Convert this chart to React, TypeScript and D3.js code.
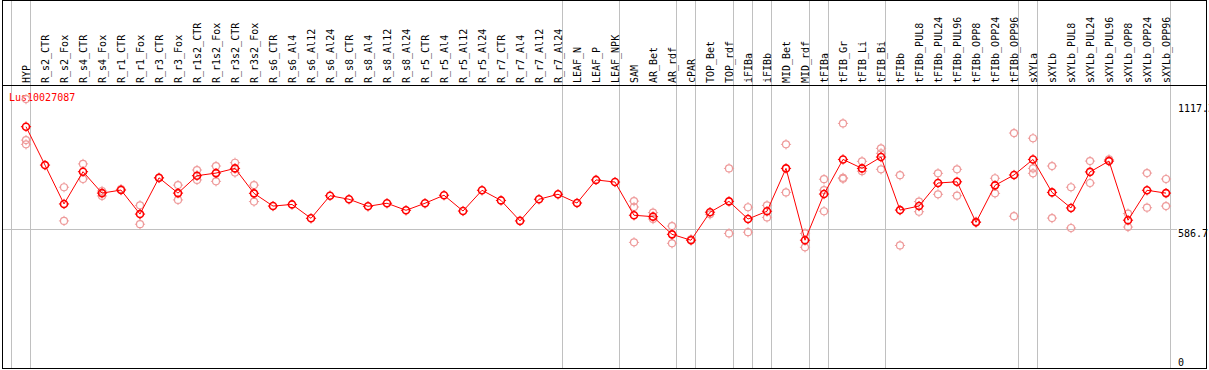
import React from "react";
import * as d3 from "d3";

const categories = ["HYP","R_s2_CTR","R_s2_Fox","R_s4_CTR","R_s4_Fox","R_r1_CTR","R_r1_Fox","R_r3_CTR","R_r3_Fox","R_r1s2_CTR","R_r1s2_Fox","R_r3s2_CTR","R_r3s2_Fox","R_s6_CTR","R_s6_Al4","R_s6_Al12","R_s6_Al24","R_s8_CTR","R_s8_Al4","R_s8_Al12","R_s8_Al24","R_r5_CTR","R_r5_Al4","R_r5_Al12","R_r5_Al24","R_r7_CTR","R_r7_Al4","R_r7_Al12","R_r7_Al24","LEAF_N","LEAF_P","LEAF_NPK","SAM","AR_Bet","AR_rdf","cPAR","TOP_Bet","TOP_rdf","iFIBa","iFIBb","MID_Bet","MID_rdf","tFIBa","tFIB_Gr","tFIB_Li","tFIB_Bi","tFIBb","tFIBb_PUL8","tFIBb_PUL24","tFIBb_PUL96","tFIBb_OPP8","tFIBb_OPP24","tFIBb_OPP96","sXYLa","sXYLb","sXYLb_PUL8","sXYLb_PUL24","sXYLb_PUL96","sXYLb_OPP8","sXYLb_OPP24","sXYLb_OPP96"];

const meanValues = [1021,858,693,830,739,752,650,804,739,813,824,844,738,684,691,632,728,713,683,696,666,696,730,663,751,708,621,713,734,697,795,786,645,639,564,539,658,704,629,662,844,539,735,882,844,892,667,684,782,787,615,772,816,882,742,676,829,875,624,751,739];

const replicateValues: number[][] = [
  [1138,964,946],[],[764,621],[863,799],[748,727],[756],[687,607],[803],[773,710],[837,795],[854,789],[868,826],[773,703],
  [],[],[],[],[],[],[],[],[],[],[],[],[],[],[],[],
  [],[],[],
  [705,680,530],[656,629],[599,526],[543],[649],[844,568],[679,573],[687,636],[946,742],[568,509],
  [798,752,662],[1035,804,800],[874,832],[929,908,840],
  [815,517],[703,660],[823,734],[840,728],[618],[802,738],[994,641],
  [972,844,823],[854,633],[764,591],[875,782],[882],[652,595],[824,677],[799,684]
];

const groupEnds = ["HYP","R_r7_Al24","LEAF_NPK","AR_rdf","cPAR","TOP_rdf","iFIBa","iFIBb","MID_rdf","tFIBa","tFIB_Bi","tFIBb_OPP96","sXYLa","sXYLb_OPP96"];

const axisTicks = [0, 586.7, 1117.3];
const gridTicks = [586.7];
const geneName = "Lus10027087";

const W = 1209, H = 370;
const FONT = "'DejaVu Sans Mono', 'Liberation Mono', monospace";

function Marker({ cx, cy, color, sw }: { cx: number; cy: number; color: string; sw: number }) {
  const r = 3.5;
  const t = 1.6;
  return (
    <g>
      <circle cx={cx} cy={cy} r={r} fill="none" stroke={color} strokeWidth={sw} />
      <line x1={cx} y1={cy - r} x2={cx} y2={cy - r - t} stroke={color} strokeWidth={1} />
      <line x1={cx} y1={cy + r} x2={cx} y2={cy + r + t} stroke={color} strokeWidth={1} />
      <line x1={cx - r} y1={cy} x2={cx - r - t} y2={cy} stroke={color} strokeWidth={1} />
      <line x1={cx + r} y1={cy} x2={cx + r + t} y2={cy} stroke={color} strokeWidth={1} />
    </g>
  );
}

export default function App() {
  const x = d3.scalePoint<string>().domain(categories).range([26, 26 + 19 * (categories.length - 1)]);
  const y = d3.scaleLinear().domain([0, 1117.3]).range([367.2, 104]);
  const line = d3.line<number>().x((_, i) => x(categories[i])!).y((d) => y(d));

  const seps = [x(categories[0])! - 14.5, ...groupEnds.map((c) => x(c)! + 4.5)].map((v) => Math.round(v - 0.5) + 0.5);

  return (
    <svg width={W} height={H} style={{ position: "absolute", left: 0, top: 0, background: "#fff" }}>
      <rect x={0} y={0} width={W} height={H} fill="#fff" />
      {seps.map((sx, i) => (
        <line key={"s" + i} x1={sx} x2={sx} y1={0} y2={369} stroke="#c0c0c0" strokeWidth={1} />
      ))}
      {gridTicks.map((t, i) => (
        <line key={"g" + i} x1={2} x2={1177} y1={Math.round(y(t)) + 0.5} y2={Math.round(y(t)) + 0.5} stroke="#c0c0c0" strokeWidth={1} />
      ))}
      {/* frame */}
      <line x1={2.5} x2={2.5} y1={0} y2={369} stroke="#000" />
      <line x1={1206.5} x2={1206.5} y1={0} y2={369} stroke="#000" />
      <line x1={2} x2={1207} y1={0.5} y2={0.5} stroke="#000" />
      <line x1={2} x2={1207} y1={368.5} y2={368.5} stroke="#000" />
      <line x1={2} x2={1207} y1={85.5} y2={85.5} stroke="#000" />

      {categories.map((c) => (
        <text key={"l" + c} transform={`translate(${x(c)! + 3.5},83) rotate(-90)`} fontFamily={FONT} fontSize={10} fill="#000">
          {c}
        </text>
      ))}

      {axisTicks.map((t, i) => (
        <text key={"t" + i} x={1178} y={Math.min(y(t) + 7.8, 366)} fontFamily={FONT} fontSize={10} fill="#000">
          {String(t)}
        </text>
      ))}

      <text x={9} y={100.5} fontFamily={FONT} fontSize={10} fill="#ff0000">{geneName}</text>

      {replicateValues.map((reps, i) =>
        reps.map((v, j) => (
          <Marker key={`r${i}-${j}`} cx={x(categories[i])!} cy={y(v)} color="#ee9a9a" sw={1.2} />
        ))
      )}
      <path d={line(meanValues) || ""} fill="none" stroke="#ff0000" strokeWidth={1} />
      {meanValues.map((v, i) => (
        <Marker key={"m" + i} cx={x(categories[i])!} cy={y(v)} color="#ff0000" sw={1.6} />
      ))}
    </svg>
  );
}
